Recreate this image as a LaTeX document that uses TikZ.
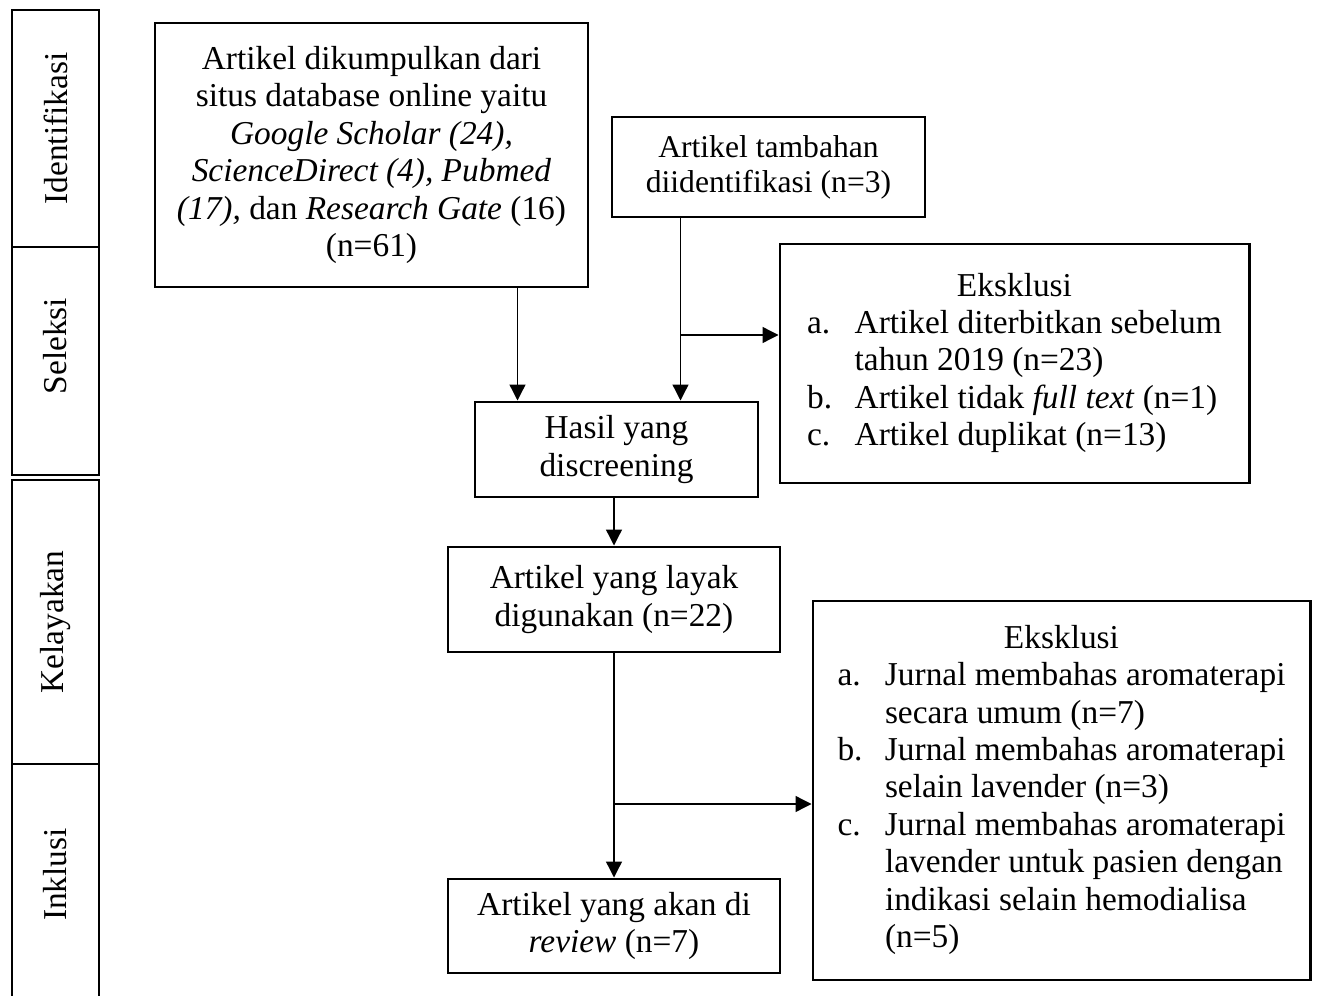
\documentclass[tikz,border=0pt]{standalone}
\usepackage{fontspec}
\setmainfont{Liberation Serif}
\usetikzlibrary{arrows.meta,calc}

\begin{document}
\begin{tikzpicture}[
  >={Triangle[length=3.2mm,width=3.2mm]},
  every node/.style={font=\fontsize{19}{21.3}\selectfont},
  stage/.style={draw,line width=1.7pt,rotate=90,minimum height=1.74cm},
  box/.style={draw,line width=1.7pt,align=center,inner sep=0pt},
  xbox/.style={draw,line width=1.7pt,inner sep=0pt},
  link/.style={->,line width=0.75pt}
]
\useasboundingbox (0,0) rectangle (26.34,-19.92);

\node[stage,minimum width=4.74cm] (idf) at (1.11,-2.57)  {Identifikasi};
\node[stage,minimum width=4.56cm] (sel) at (1.11,-7.22)  {\hspace*{0.6cm}Seleksi};
\node[stage,minimum width=5.68cm] (kel) at (1.11,-12.44) {Kelayakan};
\node[stage,minimum width=4.82cm] (ink) at (1.11,-17.69) {\hspace*{0.4cm}Inklusi};

\node[box,minimum width=8.66cm,minimum height=5.28cm] (src) at (7.43,-3.10)
  {Artikel dikumpulkan dari\\situs database online yaitu\\
   \textit{Google Scholar (24),}\\\textit{ScienceDirect (4), Pubmed}\\
   \textit{(17),} dan \textit{Research Gate} (16)\\(n=61)};
\node[box,minimum width=6.26cm,minimum height=2.0cm,
      font=\fontsize{18}{19.9}\selectfont] (add) at (15.37,-3.34)
  {Artikel tambahan\\diidentifikasi (n=3)};
\node[box,minimum width=5.66cm,minimum height=1.9cm] (scr) at (12.33,-8.99)
  {Hasil yang\\discreening};
\node[box,minimum width=6.64cm,minimum height=2.1cm] (elig) at (12.28,-11.99)
  {Artikel yang layak\\digunakan (n=22)};
\node[box,minimum width=6.64cm,minimum height=1.88cm] (rev) at (12.28,-18.52)
  {Artikel yang akan di\\\textit{review} (n=7)};

\node[xbox,minimum width=9.38cm,minimum height=4.78cm] (exc1) at (20.29,-7.27)
  {\begin{tabular}{@{}p{0.95cm}@{}l@{}}
   \multicolumn{2}{c}{Eksklusi}\\
   a. & Artikel diterbitkan sebelum\\
      & tahun 2019 (n=23)\\
   b. & Artikel tidak \textit{full text} (n=1)\\
   c. & Artikel duplikat (n=13)
   \end{tabular}};
\node[xbox,minimum width=9.94cm,minimum height=7.58cm] (exc2) at (21.23,-15.81)
  {\begin{tabular}{@{}p{0.95cm}@{}l@{}}
   \multicolumn{2}{c}{Eksklusi}\\
   a. & Jurnal membahas aromaterapi\\
      & secara umum (n=7)\\
   b. & Jurnal membahas aromaterapi\\
      & selain lavender (n=3)\\
   c. & Jurnal membahas aromaterapi\\
      & lavender untuk pasien dengan\\
      & indikasi selain hemodialisa\\
      & (n=5)
   \end{tabular}};

\coordinate (j1) at ($(scr.north west)+(0.88,0)$);
\coordinate (j2) at ($(scr.north west)+(4.14,0)$);
\coordinate (b1) at (j2 |- 0,-6.7);
\coordinate (b2) at (elig.south |- 0,-16.08);

\draw[link] (j1 |- src.south) -- (j1);
\draw[link] (j2 |- add.south) -- (j2);
\draw[link] (b1) -- (b1 -| exc1.west);
\draw[link] (elig.north |- scr.south) -- (elig.north);
\draw[link] (elig.south) -- (rev.north);
\draw[link] (b2) -- (b2 -| exc2.west);
\end{tikzpicture}
\end{document}
